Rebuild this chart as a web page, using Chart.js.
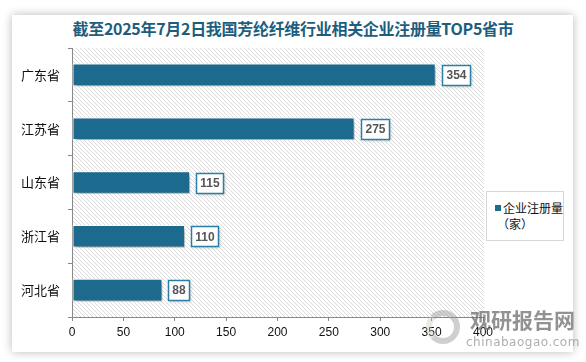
<!DOCTYPE html>
<html lang="zh">
<head>
<meta charset="UTF-8">
<title>芳纶纤维企业注册量TOP5省市</title>
<script src="https://cdn.jsdelivr.net/npm/chart.js@4.4.4/dist/chart.umd.min.js"></script>
<style>
  body { margin: 0; background: #fff; font-family: "Noto Sans CJK SC", "Noto Sans", sans-serif; }
  #wrap { position: relative; width: 586px; height: 362px; overflow: hidden; }
  #card {
    position: absolute; left: 12px; top: 15px; width: 561px; height: 337px;
    background: #fff; box-shadow: 0 0 9px rgba(0,0,0,0.28);
  }
  #title {
    position: absolute; left: 0; top: 16px; width: 586px; text-align: center;
    font: bold 16px "Noto Sans CJK SC", sans-serif; color: #1d5e7e; letter-spacing: -0.3px;
  }
  #chart { position: absolute; left: 0; top: 0; }
  #legend {
    position: absolute; left: 486px; top: 191px; width: 78px; height: 50px;
    border: 1px solid #d6d6d6; box-sizing: border-box; background: #fff;
    font: 12px "Noto Sans CJK SC", sans-serif; color: #111; line-height: 16px; white-space: nowrap;
  }
  #legend .sw { position: absolute; left: 8px; top: 13px; width: 6px; height: 6px; background: #1c6b8e; }
  #legend .t1 { position: absolute; left: 16px; top: 8px; }
  #legend .t2 { position: absolute; left: 10px; top: 24px; }
  #wm1 { position: absolute; left: 470px; top: 304px; font: bold 21px "Noto Sans CJK SC", sans-serif; color: rgba(110,110,110,0.75); }
  #wm2 { position: absolute; left: 466px; top: 335px; font: 12px "DejaVu Sans", sans-serif; color: rgba(140,140,140,0.7); letter-spacing: 0.5px; }
  #wm0 { position: absolute; left: 426px; top: 310px; width: 34px; height: 34px; border-radius: 50%;
         border: 6px solid rgba(150,150,150,0.45); border-left-color: rgba(200,200,190,0.4); box-sizing: border-box; }
</style>
</head>
<body>
<div id="wrap">
  <div id="card"></div>
  <div id="title">截至2025年7月2日我国芳纶纤维行业相关企业注册量TOP5省市</div>
  <canvas id="chart" width="586" height="362"></canvas>
  <div id="legend"><div class="sw"></div><div class="t1">企业注册量</div><div class="t2">（家）</div></div>
  <div id="wm0"></div>
  <div id="wm1">观研报告网</div>
  <div id="wm2">chinabaogao.com</div>
</div>
<script>
const provinces = ['广东省', '江苏省', '山东省', '浙江省', '河北省'];
const counts = [354, 275, 115, 110, 88];
const seriesName = '企业注册量（家）';
const xTicks = [0, 50, 100, 150, 200, 250, 300, 350, 400];

// diagonal hatch for the plot area
function makeHatch() {
  const c = document.createElement('canvas');
  c.width = 4; c.height = 4;
  const g = c.getContext('2d');
  g.fillStyle = '#ffffff';
  g.fillRect(0, 0, 4, 4);
  g.strokeStyle = '#dadada';
  g.lineWidth = 1;
  g.beginPath();
  g.moveTo(0, 0); g.lineTo(4, 4);
  g.moveTo(-1, 3); g.lineTo(1, 5);
  g.moveTo(3, -1); g.lineTo(5, 1);
  g.stroke();
  return g.createPattern(c, 'repeat');
}

const hatchPlugin = {
  id: 'hatch',
  beforeDraw(chart) {
    const { ctx, chartArea: a } = chart;
    ctx.save();
    ctx.fillStyle = makeHatch();
    ctx.fillRect(a.left, a.top, a.right - a.left + 1, a.bottom - a.top);
    ctx.restore();
  }
};

const shadowPlugin = {
  id: 'barShadow',
  beforeDatasetsDraw(chart) {
    const ctx = chart.ctx;
    ctx.save();
    ctx.shadowColor = 'rgba(0,0,0,0.35)';
    ctx.shadowBlur = 4;
    ctx.shadowOffsetX = 2;
    ctx.shadowOffsetY = 3;
  },
  afterDatasetsDraw(chart) {
    chart.ctx.restore();
  }
};

const labelPlugin = {
  id: 'valueBoxes',
  afterDatasetsDraw(chart) {
    const ctx = chart.ctx;
    const meta = chart.getDatasetMeta(0);
    ctx.save();
    ctx.font = 'bold 12px "Liberation Sans", sans-serif';
    ctx.textAlign = 'center';
    ctx.textBaseline = 'middle';
    meta.data.forEach((bar, i) => {
      const txt = String(chart.data.datasets[0].data[i]);
      const w = Math.round(ctx.measureText(txt).width) + 8;
      const h = 20;
      const x = Math.round(bar.x) + 6.5;
      const y = Math.round(bar.y - h / 2) + 0.5;
      ctx.save();
      ctx.shadowColor = 'rgba(0,0,0,0.25)';
      ctx.shadowBlur = 3;
      ctx.shadowOffsetX = 1;
      ctx.shadowOffsetY = 1;
      ctx.fillStyle = '#fff';
      ctx.fillRect(x, y, w, h);
      ctx.restore();
      ctx.strokeStyle = '#2b7fa6';
      ctx.lineWidth = 1.5;
      ctx.strokeRect(x, y, w, h);
      ctx.fillStyle = '#555';
      ctx.fillText(txt, x + w / 2, bar.y + 1);
    });
    ctx.restore();
  }
};

new Chart(document.getElementById('chart'), {
  type: 'bar',
  data: {
    labels: provinces,
    datasets: [{
      label: seriesName,
      data: counts,
      backgroundColor: '#1c6b8e',
      borderColor: '#ffffff',
      borderWidth: 1,
      borderSkipped: false,
      categoryPercentage: 1,
      barPercentage: 0.42
    }]
  },
  options: {
    indexAxis: 'y',
    responsive: false,
    animation: false,
    layout: { padding: { left: 12, right: 103, top: 48, bottom: 15 } },
    plugins: { legend: { display: false }, tooltip: { enabled: false } },
    scales: {
      x: {
        min: xTicks[0],
        max: xTicks[xTicks.length - 1],
        afterBuildTicks(scale) { scale.ticks = xTicks.map(v => ({ value: v })); },
        afterFit(scale) { scale.height = 30; },
        grid: { drawOnChartArea: false, drawTicks: true, tickLength: 4, color: '#888' },
        border: { display: true, color: '#888' },
        ticks: { color: '#111', font: { family: 'Liberation Sans', size: 12 }, padding: 4 }
      },
      y: {
        afterFit(scale) { scale.width = 60; },
        grid: { offset: true, drawOnChartArea: false, drawTicks: true, tickLength: 4, color: '#888' },
        border: { display: true, color: '#888' },
        ticks: { color: '#111', font: { family: 'Noto Sans CJK SC', size: 13 }, padding: 8 }
      }
    }
  },
  plugins: [hatchPlugin, shadowPlugin, labelPlugin]
});
</script>
</body>
</html>
